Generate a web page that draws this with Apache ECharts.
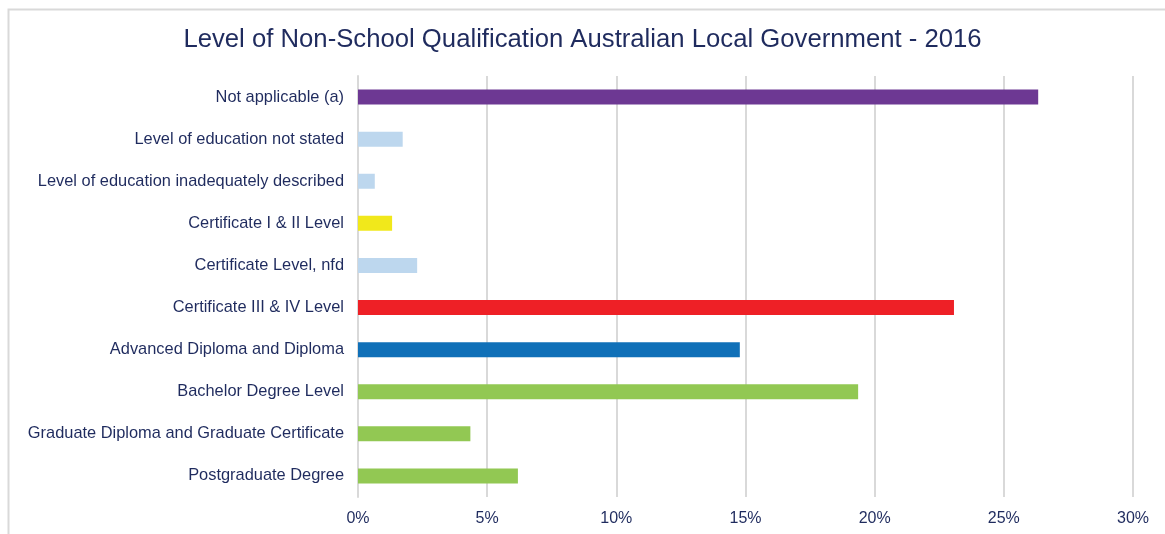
<!DOCTYPE html>
<html>
<head>
<meta charset="utf-8">
<script src="https://cdn.jsdelivr.net/npm/echarts@6/dist/echarts.min.js"></script>
<style>
  html, body { margin: 0; padding: 0; background: #fff; }
  #chart { width: 1165px; height: 534px; }
</style>
</head>
<body>
<div id="chart"></div>
<script>
// categories from top to bottom
var categories = [
  "Not applicable (a)",
  "Level of education not stated",
  "Level of education inadequately described",
  "Certificate I & II Level",
  "Certificate Level, nfd",
  "Certificate III & IV Level",
  "Advanced Diploma and Diploma",
  "Bachelor Degree Level",
  "Graduate Diploma and Graduate Certificate",
  "Postgraduate Degree"
];
// percent of people
var shares = [26.33, 1.73, 0.65, 1.32, 2.29, 23.07, 14.78, 19.36, 4.35, 6.19];
var barColors = [
  "#6d3893", "#bdd7ee", "#bdd7ee", "#f1e81b", "#bdd7ee",
  "#ee2026", "#1070b8", "#92c853", "#92c853", "#92c853"
];
var xTicks = [0, 5, 10, 15, 20, 25, 30];

var textColor = "#1f2b5e";
var fontName = "Liberation Sans, Arial, sans-serif";
var chart = echarts.init(document.getElementById("chart"));

var option = {
  animation: false,
  title: {
    text: "Level of Non-School Qualification Australian Local Government - 2016",
    left: "center",
    top: 22,
    textStyle: {
      color: textColor,
      fontSize: 25.7,
      fontWeight: "normal",
      fontFamily: fontName
    }
  },
  graphic: [
    {
      // outer frame of the chart area (cut at right and bottom)
      type: "rect",
      shape: { x: 8.5, y: 9.5, width: 1200, height: 600 },
      style: { fill: "none", stroke: "#d9d9d9", lineWidth: 2 },
      silent: true
    }
  ],
  grid: {
    left: 358,
    right: 32,
    top: 76,
    bottom: 37,
    containLabel: false
  },
  xAxis: {
    type: "value",
    min: xTicks[0],
    max: xTicks[xTicks.length - 1],
    interval: 5,
    axisLine: { show: false },
    axisTick: { show: false },
    splitLine: { show: true, lineStyle: { color: "#d9d9d9", width: 2 } },
    axisLabel: {
      color: textColor,
      fontSize: 16,
      margin: 14,
      fontFamily: fontName,
      formatter: "{value}%"
    }
  },
  yAxis: {
    type: "category",
    inverse: true,
    data: categories,
    axisLine: { show: true, lineStyle: { color: "#d9d9d9", width: 2 } },
    axisTick: { show: false },
    axisLabel: {
      color: textColor,
      fontSize: 16.4,
      margin: 14,
      fontFamily: fontName
    }
  },
  series: [
    {
      type: "bar",
      data: shares.map(function (v, i) {
        return { value: v, itemStyle: { color: barColors[i] } };
      }),
      barWidth: 15
    }
  ]
};

chart.setOption(option);
</script>
</body>
</html>
